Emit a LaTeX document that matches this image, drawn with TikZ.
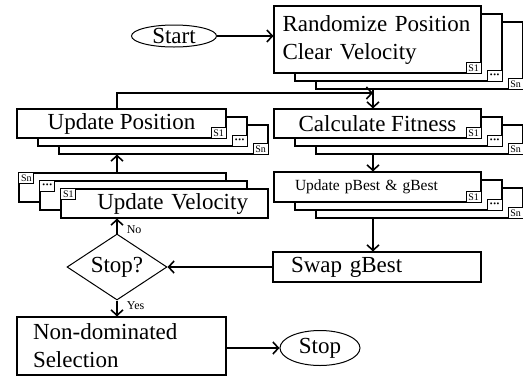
\documentclass[tikz,border=0pt]{standalone}
\usepackage{fontspec}
\setmainfont{Liberation Serif}
\usetikzlibrary{shapes.geometric, arrows.meta, positioning, calc}
\tikzset{
    layer/.style    ={rectangle, draw=black, line width=1.1pt, fill=white, inner sep=0pt},
    tag/.style      ={rectangle, draw=black, line width=0.7pt, fill=white, inner xsep=1pt, inner ysep=0.5pt, minimum height=10.5pt, minimum width=15pt, font=\fontsize{10}{10}\selectfont},
    terminal/.style ={ellipse, draw=black, line width=1pt, inner sep=0pt},
    decision/.style ={diamond, aspect=1.5, draw=black, line width=1pt, inner sep=0pt, minimum width=100pt, minimum height=66pt},
    flowarrow/.style={-{Straight Barb[length=5.5pt,width=12pt]}, line width=1.6pt},
    note/.style     ={font=\fontsize{12}{12}\selectfont, inner sep=1pt},
}
\newcommand{\tagdots}{{\fontsize{8}{8}\selectfont\textbullet\kern0.6pt\textbullet\kern0.6pt\textbullet}}
% stack of three layers, the back ones stepping down to the right
\newcommand{\stackdown}[6]{%
  \node[layer, minimum width=#3, minimum height=#4] (#1-3) at ($(#2)+(42,16)$) {};
  \node[tag, anchor=south east] at (#1-3.south east) {Sn};
  \node[layer, minimum width=#3, minimum height=#4] (#1-2) at ($(#2)+(21,8)$) {};
  \node[tag, anchor=south east] at (#1-2.south east) {\tagdots};
  \node[layer, minimum width=#3, minimum height=#4, #5] (#1) at (#2) {#6};
  \node[tag, anchor=south east] at (#1.south east) {S1};
}
% stack of three layers, the back ones stepping up to the left
\newcommand{\stackup}[6]{%
  \node[layer, minimum width=#3, minimum height=#4] (#1-3) at ($(#2)+(-42,-16)$) {};
  \node[tag, anchor=north west] at (#1-3.north west) {Sn};
  \node[layer, minimum width=#3, minimum height=#4] (#1-2) at ($(#2)+(-21,-8)$) {};
  \node[tag, anchor=north west] at (#1-2.north west) {\tagdots};
  \node[layer, minimum width=#3, minimum height=#4, #5] (#1) at (#2) {#6};
  \node[tag, anchor=north west] at (#1.north west) {S1};
}
\begin{document}
\begin{tikzpicture}[x=1pt, y=-1pt, font=\fontsize{23}{28}\selectfont]
    \useasboundingbox (0,0) rectangle (523,376);
    \clip (0,0) rectangle (523,376);
    % stacked boxes
    \stackdown{rand}{377.5,39.5}{207pt}{67pt}{text width=190pt, align=left}{Randomize Position\\Clear Velocity}
    \stackdown{calc}{377.5,123.5}{207pt}{29pt}{}{Calculate Fitness}
    \stackdown{best}{377.5,187}{207pt}{30pt}{text width=165pt, align=left, font=\fontsize{15.5}{18}\selectfont}{Update pBest \& gBest}
    \stackdown{pos}{121.5,123.5}{209pt}{29pt}{}{Update Position}
    \stackup{vel}{164.5,203.5}{207pt}{29pt}{text width=167pt, align=right}{Update Velocity}
    % single nodes
    \node[terminal, minimum width=85pt, minimum height=22pt] (start) at (174,36) {Start};
    \node[layer, minimum width=208pt, minimum height=30pt, text width=172pt, align=left] (swap) at (377,267) {Swap gBest};
    \node[decision] (dia) at (117,267) {Stop?};
    \node[layer, minimum width=209pt, minimum height=58pt, text width=177pt, align=left] (nondom) at (121.5,346) {Non-dominated\\Selection};
    \node[terminal, minimum width=80pt, minimum height=35pt] (stop) at (320,348) {Stop};
    \coordinate (join) at (373,93);
    % connectors
    \draw[flowarrow](start.east)--(start.east -| rand.west);
    \draw[flowarrow](pos.north -| dia.north)|-(join);
    \draw[flowarrow](rand-3.south -| join)--(calc.north -| join);
    \draw[flowarrow](calc-3.south -| join)--(best.north -| join);
    \draw[flowarrow](best-3.south -| join)--(swap.north -| join);
    \draw[flowarrow](swap.west)--(dia.east);
    \draw[flowarrow](dia.north)-- node[note, right=8pt, pos=0.25]{No}(vel.south -| dia.north);
    \draw[flowarrow](vel-3.north -| dia.north)--(pos-3.south -| dia.north);
    \draw[flowarrow](dia.south)-- node[note, right=8pt, pos=0.3]{Yes}(nondom.north -| dia.south);
    \draw[flowarrow](nondom.east |- stop.west)--(stop.west);
\end{tikzpicture}
\end{document}
